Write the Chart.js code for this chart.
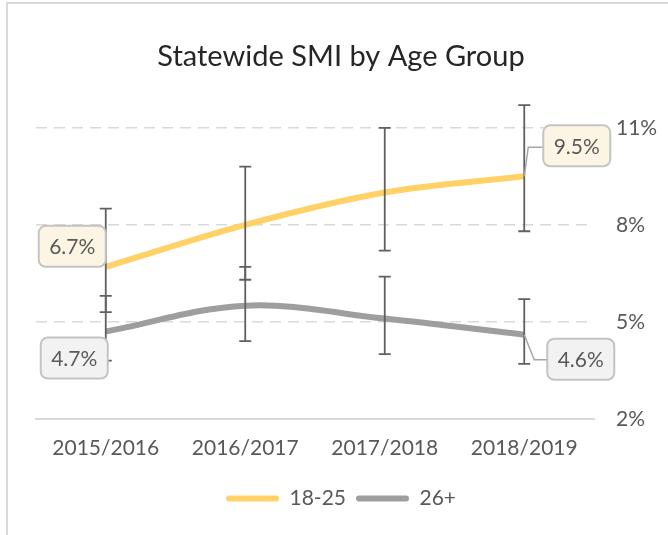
<!DOCTYPE html>
<html>
<head>
<meta charset="utf-8">
<script src="https://cdn.jsdelivr.net/npm/chart.js@4.4.1/dist/chart.umd.min.js"></script>
<style>
  html, body { margin: 0; padding: 0; background: #fff; }
  #wrap { width: 668px; height: 535px; }
</style>
</head>
<body>
<div id="wrap"><canvas id="miGrafico" width="668" height="535"></canvas></div>
<script>
// data
const years = ['2015/2016', '2016/2017', '2017/2018', '2018/2019'];
const young = [6.7, 8.0, 9.0, 9.5];
const youngHigh = [8.5, 9.8, 11.0, 11.7];
const youngLow = [5.3, 6.3, 7.2, 7.8];
const older = [4.7, 5.5, 5.1, 4.6];
const olderHigh = [5.8, 6.7, 6.4, 5.7];
const olderLow = [3.8, 4.4, 4.0, 3.7];
const yTicks = [2, 5, 8, 11];

const txt = '#595959';
const fontName = 'Lato, "Open Sans", sans-serif';

// error bars + the boxed first/last labels
const extras = {
  id: 'extras',
  beforeDraw(chart) {
    const c = chart.ctx;
    c.save();
    c.strokeStyle = '#d9d9d9';
    c.lineWidth = 2;
    c.beginPath();
    c.moveTo(7, 535);
    c.lineTo(7, 3);
    c.lineTo(668, 3);
    c.stroke();
    c.restore();
  },
  afterDatasetsDraw(chart) {
    const c = chart.ctx;
    const x = chart.scales.x, y = chart.scales.y;
    const bars = [[youngHigh, youngLow], [olderHigh, olderLow]];
    c.save();
    c.strokeStyle = '#606060';
    c.lineWidth = 1.8;
    bars.forEach(([hi, lo]) => {
      hi.forEach((h, i) => {
        const px = x.getPixelForValue(i);
        const top = y.getPixelForValue(h), bot = y.getPixelForValue(lo[i]);
        c.beginPath();
        c.moveTo(px, top); c.lineTo(px, bot);
        c.moveTo(px - 6, top); c.lineTo(px + 6, top);
        c.moveTo(px - 6, bot); c.lineTo(px + 6, bot);
        c.stroke();
      });
    });
    c.restore();

    const last = years.length - 1;
    const labels = [
      { v: young[0], i: 0, fill: '#fdf5e3', dx: -67, dy: -41, lead: null },
      { v: older[0], i: 0, fill: '#f2f2f2', dx: -65, dy: 6, lead: null },
      { v: young[last], i: last, fill: '#fdf5e3', dx: 19, dy: -51, lead: [[4, -29], [19, -29]] },
      { v: older[last], i: last, fill: '#f2f2f2', dx: 23, dy: 4, lead: [[10, 25], [23, 25]] }
    ];
    labels.forEach(l => {
      const px = x.getPixelForValue(l.i), py = y.getPixelForValue(l.v);
      if (l.lead) {
        c.save();
        c.strokeStyle = '#a6a6a6';
        c.lineWidth = 1.5;
        c.beginPath();
        c.moveTo(px, py);
        l.lead.forEach(p => c.lineTo(px + p[0], py + p[1]));
        c.stroke();
        c.restore();
      }
      const bx = px + l.dx, by = py + l.dy, bw = 67, bh = 41;
      c.save();
      c.beginPath();
      c.roundRect(bx, by, bw, bh, 7);
      c.fillStyle = l.fill;
      c.fill();
      c.strokeStyle = '#c4c4c4';
      c.lineWidth = 2;
      c.stroke();
      c.fillStyle = txt;
      c.font = '21px ' + fontName;
      c.textAlign = 'center';
      c.textBaseline = 'middle';
      c.fillText(l.v.toFixed(1) + '%', bx + bw / 2, by + bh / 2 + 1);
      c.restore();
    });
  }
};

const ctx = document.getElementById('miGrafico').getContext('2d');
const miGrafico = new Chart(ctx, {
  type: 'line',
  data: {
    labels: years,
    datasets: [{
      label: '18-25',
      data: young,
      borderColor: '#ffd166',
      backgroundColor: '#ffd166',
      borderWidth: 6,
      pointRadius: 0,
      tension: 0.35,
      fill: false
    }, {
      label: '26+',
      data: older,
      borderColor: '#9e9e9e',
      backgroundColor: '#9e9e9e',
      borderWidth: 6,
      pointRadius: 0,
      tension: 0.35,
      fill: false
    }]
  },
  options: {
    responsive: false,
    animation: false,
    layout: { padding: { left: 14, right: 0, top: 0, bottom: 16 } },
    scales: {
      x: {
        offset: true,
        grid: { display: false },
        border: { display: true, color: '#d9d9d9', width: 2 },
        afterFit(scale) { scale.height = scale.height + 8; },
        ticks: { color: txt, font: { family: fontName, size: 21 }, padding: 9 }
      },
      y: {
        position: 'right',
        min: 2,
        max: 11,
        afterBuildTicks(scale) { scale.ticks = yTicks.map(v => ({ value: v })); },
        afterFit(scale) { scale.width = 74; },
        grid: { color: '#d9d9d9', lineWidth: 1.5, drawTicks: false },
        border: { display: false, dash: [11, 7] },
        ticks: {
          color: txt,
          font: { family: fontName, size: 21 },
          padding: 22,
          callback: v => v + '%'
        }
      },
      spacer: {
        position: 'left',
        min: 0,
        max: 1,
        afterFit(scale) { scale.width = 22; },
        grid: { display: false },
        border: { display: false },
        ticks: { display: false }
      }
    },
    plugins: {
      title: {
        display: true,
        text: 'Statewide SMI by Age Group',
        color: '#262626',
        font: { family: fontName, size: 29, weight: 'normal' },
        padding: { top: 39, bottom: 54 }
      },
      legend: {
        position: 'bottom',
        labels: {
          color: txt,
          font: { family: fontName, size: 21 },
          boxWidth: 53,
          boxHeight: 6,
          useBorderRadius: true,
          borderRadius: 3,
          padding: 10,
          generateLabels: chart => Chart.defaults.plugins.legend.labels.generateLabels(chart).map(l => ({ ...l, lineWidth: 0 }))
        }
      },
      tooltip: { enabled: false }
    }
  },
  plugins: [extras]
});
</script>
</body>
</html>
